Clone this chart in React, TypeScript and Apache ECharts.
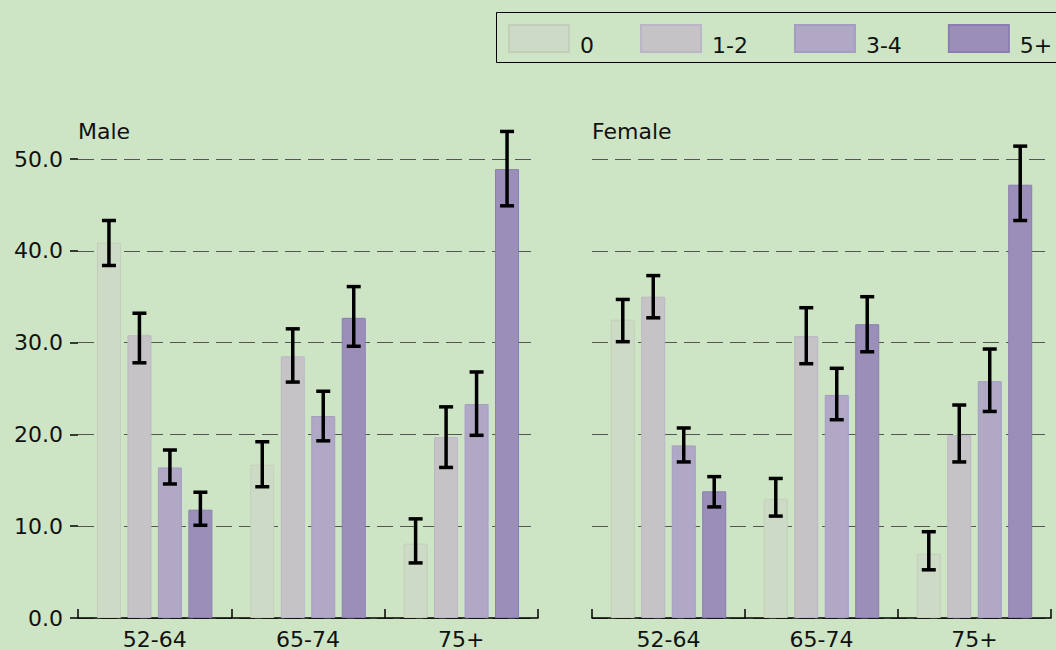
import React, { useEffect, useRef } from "react";
import * as echarts from "echarts";

const ageGroups = ["52-64", "65-74", "75+"];
const legendNames = ["0", "1-2", "3-4", "5+"];
const yTicks = [0, 10, 20, 30, 40, 50];

// Male: values per legend group, by age group
const maleValues = [
  [40.9, 16.7, 8.1],
  [30.8, 28.5, 19.7],
  [16.4, 22.0, 23.3],
  [11.8, 32.7, 48.9],
];
const maleLow = [
  [38.4, 14.3, 6.0],
  [27.8, 25.7, 16.4],
  [14.6, 19.3, 19.9],
  [10.1, 29.6, 44.9],
];
const maleHigh = [
  [43.3, 19.2, 10.8],
  [33.2, 31.5, 23.0],
  [18.3, 24.7, 26.8],
  [13.7, 36.1, 53.0],
];

// Female
const femaleValues = [
  [32.5, 13.0, 7.0],
  [35.0, 30.7, 19.9],
  [18.8, 24.3, 25.8],
  [13.8, 32.0, 47.2],
];
const femaleLow = [
  [30.1, 11.1, 5.25],
  [32.7, 27.7, 17.0],
  [17.0, 21.6, 22.5],
  [12.1, 29.0, 43.3],
];
const femaleHigh = [
  [34.7, 15.2, 9.4],
  [37.3, 33.8, 23.2],
  [20.7, 27.2, 29.3],
  [15.4, 35.0, 51.4],
];

const fills = ["#cddac5", "#c6c3c6", "#b0a8c5", "#9b8fba"];
const borders = ["#c3cfbb", "#bbb6c6", "#a59cc4", "#8a7db3"];
const BG = "#cee5c5";
const FONT = "DejaVu Sans";
const FS = 22;

const BAR_W = 24;
const BAR_GAP = 0.27;

export default function App() {
  const ref = useRef<HTMLDivElement>(null);

  useEffect(() => {
    if (!ref.current) return;
    const chart = echarts.init(ref.current, undefined, { renderer: "svg" });

    const step = BAR_W * (1 + BAR_GAP);
    const makeErr = (gridIdx: number, sIdx: number, low: number[], high: number[]) => ({
      type: "custom",
      xAxisIndex: gridIdx,
      yAxisIndex: gridIdx,
      clip: false,
      z: 10,
      data: ageGroups.map((_, i) => [i, low[i], high[i]]),
      encode: { x: 0, y: [1, 2] },
      renderItem: (params: any, api: any) => {
        const top = api.coord([api.value(0), api.value(2)]);
        const bot = api.coord([api.value(0), api.value(1)]);
        const x = top[0] + (sIdx - 1.5) * step;
        const cap = 7;
        const st = { stroke: "#000", lineWidth: 3.5 };
        return {
          type: "group",
          children: [
            { type: "line", shape: { x1: x, y1: top[1], x2: x, y2: bot[1] }, style: st },
            { type: "line", shape: { x1: x - cap, y1: top[1], x2: x + cap, y2: top[1] }, style: st },
            { type: "line", shape: { x1: x - cap, y1: bot[1], x2: x + cap, y2: bot[1] }, style: st },
          ],
        };
      },
    });

    const series: any[] = [];
    [[maleValues, maleLow, maleHigh], [femaleValues, femaleLow, femaleHigh]].forEach(
      ([vals], g) => {
        legendNames.forEach((name, s) => {
          series.push({
            type: "bar",
            name,
            xAxisIndex: g,
            yAxisIndex: g,
            data: vals[s],
            barWidth: BAR_W,
            barGap: BAR_GAP * 100 + "%",
            itemStyle: { color: fills[s], borderColor: borders[s], borderWidth: 1 },
          });
        });
      }
    );
    [[maleLow, maleHigh], [femaleLow, femaleHigh]].forEach(([lows, highs], g) => {
      legendNames.forEach((_, s) => series.push(makeErr(g, s, lows[s], highs[s])));
    });

    const xAxis = (g: number) => ({
      type: "category",
      gridIndex: g,
      data: ageGroups,
      axisLine: { show: true, lineStyle: { color: "#000", width: 1.5 } },
      axisTick: { show: true, inside: true, length: 9, lineStyle: { color: "#000", width: 1.5 } },
      axisLabel: { color: "#111", fontSize: FS, fontFamily: FONT, margin: 10 },
    });
    const yAxis = (g: number) => ({
      type: "value",
      gridIndex: g,
      min: yTicks[0],
      max: yTicks[yTicks.length - 1],
      interval: 10,
      axisLine: { show: false },
      axisTick: { show: g === 0, length: 8, lineStyle: { color: "#000", width: 1.5 } },
      axisLabel: {
        show: g === 0,
        color: "#111",
        fontSize: FS,
        fontFamily: FONT,
        margin: 15,
        formatter: (v: number) => v.toFixed(1),
      },
      splitLine: {
        show: true,
        lineStyle: { color: "#555", width: 1, type: [16, 7] },
      },
    });

    chart.setOption({
      animation: false,
      backgroundColor: BG,
      title: [
        {
          text: "Male",
          left: 78,
          top: 120,
          padding: 0,
          textStyle: { fontSize: FS, fontWeight: "normal", color: "#111", fontFamily: FONT },
        },
        {
          text: "Female",
          left: 592,
          top: 120,
          padding: 0,
          textStyle: { fontSize: FS, fontWeight: "normal", color: "#111", fontFamily: FONT },
        },
      ],
      legend: {
        data: legendNames,
        left: 508,
        top: 24,
        padding: 0,
        itemWidth: 60,
        itemHeight: 27,
        itemGap: 46,
        icon: "rect",
        formatter: "{t|{name}}",
        textStyle: {
          fontSize: FS,
          color: "#111",
          fontFamily: FONT,
          rich: {
            t: {
              fontSize: FS,
              color: "#111",
              fontFamily: FONT,
              padding: [13, 0, 0, 6],
            },
          },
        },
      },
      graphic: [
        {
          type: "rect",
          shape: { x: 496.5, y: 12.5, width: 620, height: 50 },
          style: { fill: "none", stroke: "#000", lineWidth: 1 },
          silent: true,
        },
      ],
      grid: [
        { left: 78, right: 518, top: 159, bottom: 31 },
        { left: 592, right: 5, top: 159, bottom: 31 },
      ],
      xAxis: [xAxis(0), xAxis(1)],
      yAxis: [yAxis(0), yAxis(1)],
      series,
    });

    return () => chart.dispose();
  }, []);

  return (
    <div
      ref={ref}
      style={{ position: "fixed", left: 0, top: 0, width: 1056, height: 650 }}
    />
  );
}
